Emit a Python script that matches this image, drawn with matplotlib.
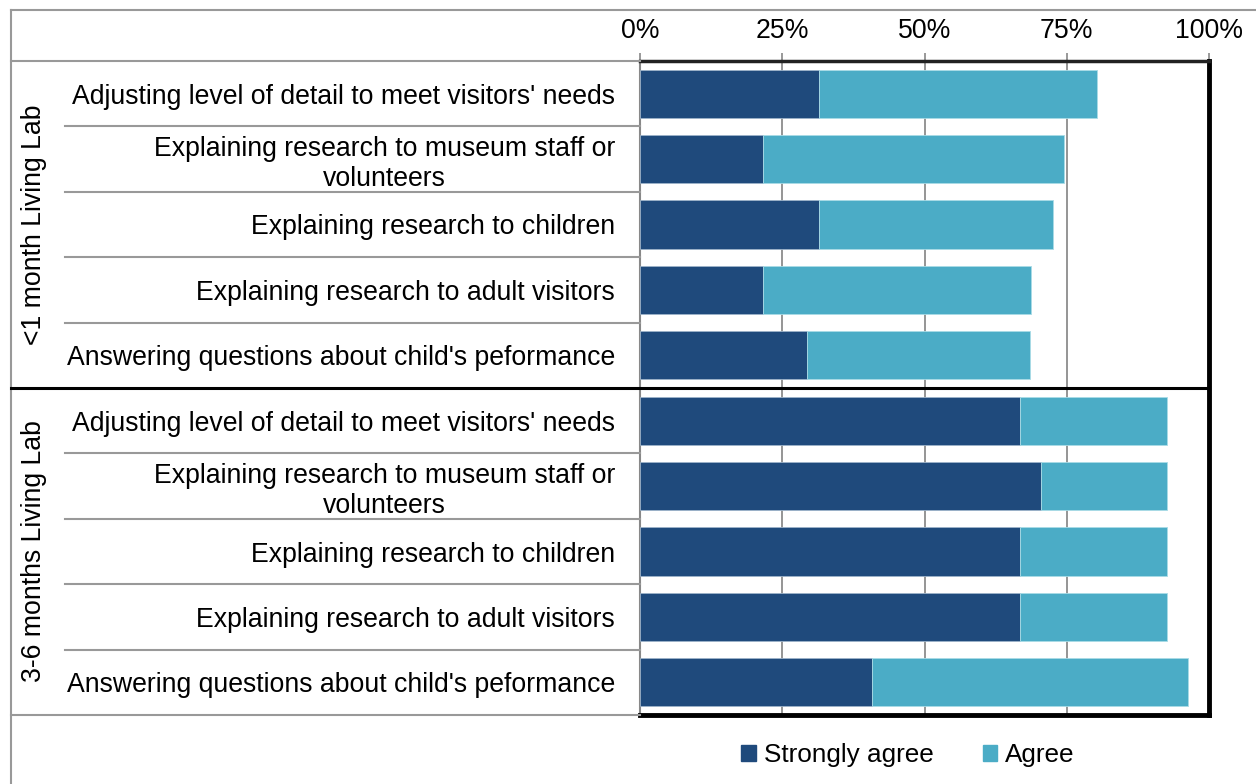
import numpy as np
import matplotlib
matplotlib.use('Agg')
from matplotlib import pyplot as plt
from matplotlib.lines import Line2D
from matplotlib.patches import Patch
from matplotlib.ticker import FuncFormatter
import matplotlib.transforms as mtransforms

plt.rcParams['font.family'] = ['Liberation Sans', 'DejaVu Sans']

# survey items, listed top to bottom inside each group
items = [
    "Adjusting level of detail to meet visitors' needs",
    "Explaining research to museum staff or\nvolunteers",
    "Explaining research to children",
    "Explaining research to adult visitors",
    "Answering questions about child's peformance",
]
groups = ['<1 month Living Lab', '3-6 months Living Lab']

# percentages of respondents
strongly_short = [31.4, 21.6, 31.4, 21.6, 29.4]
agree_short = [49.0, 52.9, 41.2, 47.1, 39.2]
strongly_long = [66.7, 70.4, 66.7, 66.7, 40.7]
agree_long = [25.9, 22.2, 25.9, 25.9, 55.6]

series_names = ['Strongly agree', 'Agree']
dark = '#1f4a7c'
light = '#4bacc6'
fs = 19.2

strongly = np.array(strongly_short + strongly_long)
agree = np.array(agree_short + agree_long)
labels = items + items
ypos = np.arange(len(labels))

W, H = 1256, 784
fig = plt.figure(figsize=(W / 100, H / 100), dpi=100)
ax = fig.add_axes([640 / W, 1 - 715 / H, (1209 - 640) / W, (715 - 61) / H])

ax.barh(ypos, strongly, height=0.74, color=dark, edgecolor='#9db3c9', linewidth=0.6, zorder=3)
ax.barh(ypos, agree, left=strongly, height=0.74, color=light, edgecolor='#a9dbe6', linewidth=0.6, zorder=3)

ax.set_xlim(0, 100)
ax.set_ylim(len(labels) - 0.5, -0.5)

# percentage axis on top
ax.xaxis.tick_top()
ax.set_xticks([0, 25, 50, 75, 100])
ax.xaxis.set_major_formatter(FuncFormatter(lambda v, p: f'{v:.0f}%'))
ax.tick_params(axis='x', length=6, color='#888888', width=1.2, labelsize=fs, pad=6)
ax.grid(axis='x', color='#8c8c8c', linewidth=1.3, zorder=0)

ax.set_yticks(ypos)
ax.set_yticklabels(labels, fontsize=fs, multialignment='center', linespacing=1.2)
ax.tick_params(axis='y', length=0, pad=18)
ax.set_yticks(np.arange(-0.5, len(labels)), minor=True)
ax.tick_params(axis='y', which='minor', length=6, color='#888888', width=1.2)

for side in ['right', 'bottom']:
    ax.spines[side].set_color('black')
    ax.spines[side].set_linewidth(3.5)
ax.spines['top'].set_color('#222222')
ax.spines['top'].set_linewidth(2.5)
ax.spines['left'].set_color('#888888')
ax.spines['left'].set_linewidth(1.5)

# table lines round the category labels
tr = mtransforms.blended_transform_factory(fig.transFigure, ax.transData)
for b in np.arange(0.5, len(labels) - 1):
    if b == 4.5:
        fig.add_artist(Line2D([11 / W, 1209 / W], [b, b], transform=tr, color='black', lw=2.2, zorder=5))
    else:
        fig.add_artist(Line2D([65 / W, 640 / W], [b, b], transform=tr, color='#999999', lw=1.5))
for b in [-0.5, len(labels) - 0.5]:
    fig.add_artist(Line2D([11 / W, 640 / W], [b, b], transform=tr, color='#999999', lw=1.5))

fig.add_artist(Line2D([11 / W, 1], [1 - 10 / H, 1 - 10 / H], transform=fig.transFigure, color='#999999', lw=1.5))
fig.add_artist(Line2D([11 / W, 11 / W], [0, 1 - 10 / H], transform=fig.transFigure, color='#999999', lw=1.5))

# group names, rotated
for gi, g in enumerate(groups):
    yc = gi * len(items) + (len(items) - 1) / 2
    fig.text(34 / W, yc, g, transform=tr, rotation=90, ha='center', va='center', fontsize=fs)

handles = [Patch(color=dark, label=series_names[0]), Patch(color=light, label=series_names[1])]
fig.legend(handles=handles, loc='center', bbox_to_anchor=(908 / W, 1 - 755 / H), ncol=2, frameon=False,
           fontsize=18.8, handlelength=0.55, handleheight=0.55, handletextpad=0.3, columnspacing=1.9)

fig.savefig('out.png', dpi=100)
